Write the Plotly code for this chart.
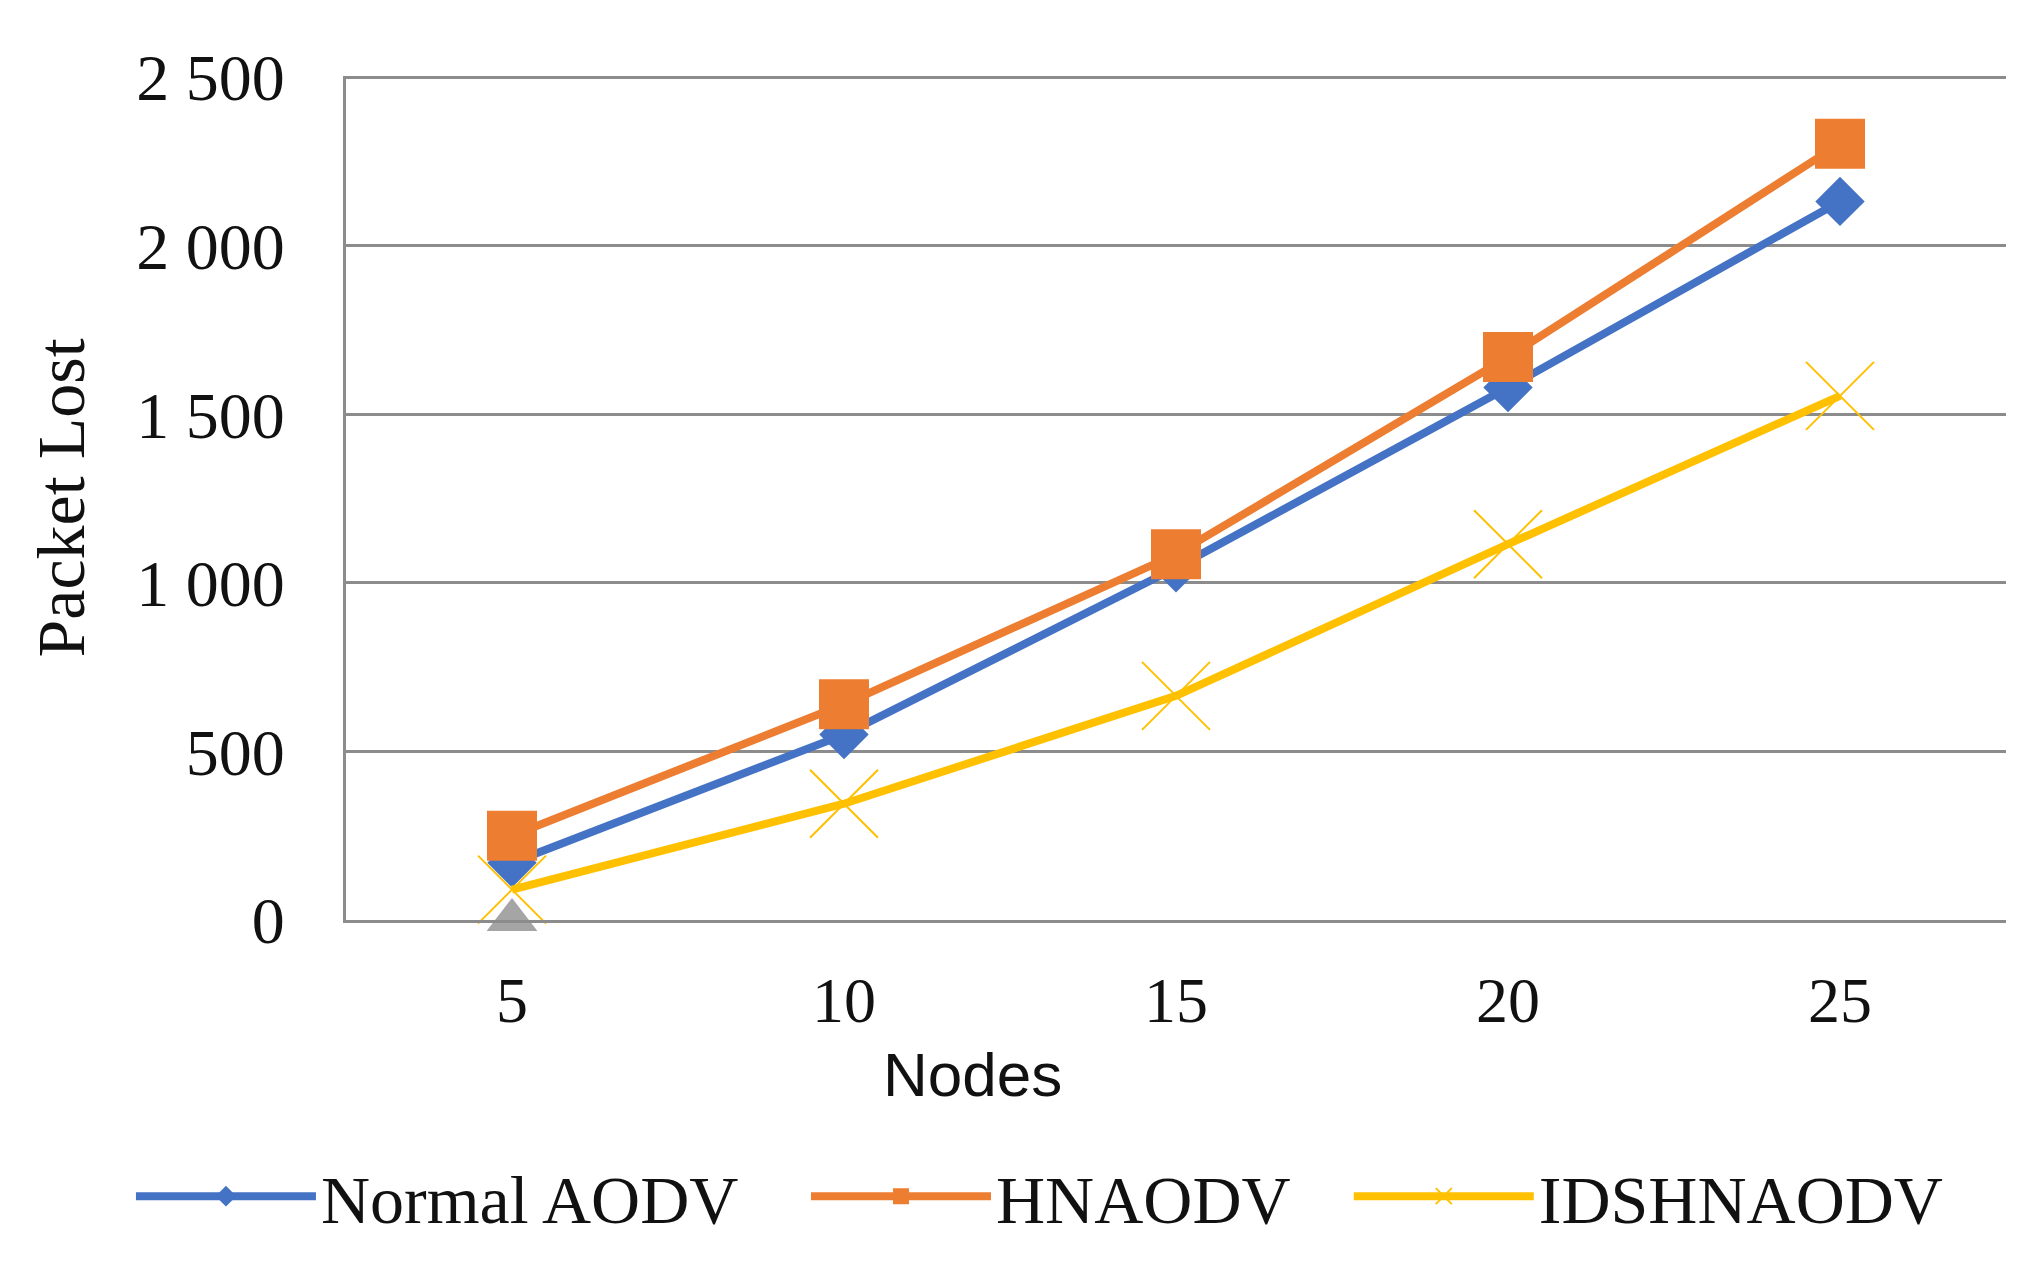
import plotly.graph_objs as go

nodes = ["5", "10", "15", "20", "25"]
normal_aodv = [170, 550, 1045, 1580, 2132]
hnaodv = [250, 640, 1085, 1670, 2303]
idshnaodv = [90, 345, 665, 1115, 1555]
series4 = [0]

y_ticks = [0, 500, 1000, 1500, 2000, 2500]
y_ticktext = ["0", "500", "1 000", "1 500", "2 000", "2 500"]

serif = "Liberation Serif"
grid = "#8c8c8c"

Normal = go.Scatter(x=nodes, y=normal_aodv, name="Normal AODV",
                    mode="lines+markers",
                    line=dict(color="#4472C4", width=8),
                    marker=dict(symbol="diamond", size=38, color="#4472C4"),
                    cliponaxis=False, legend="legend")

HN = go.Scatter(x=nodes, y=hnaodv, name="HNAODV",
                mode="lines+markers",
                line=dict(color="#ED7D31", width=8),
                marker=dict(symbol="square", size=50, color="#ED7D31"),
                cliponaxis=False, legend="legend2")

IDS = go.Scatter(x=nodes, y=idshnaodv, name="IDSHNAODV",
                 mode="lines+markers",
                 line=dict(color="#FFC000", width=8),
                 marker=dict(symbol="x-thin-open", size=68,
                             line=dict(color="#FFD966", width=2)),
                 cliponaxis=False, legend="legend3")

# lone grey point sitting on the axis at 5
S4 = go.Scatter(x=nodes[:1], y=series4, name="Series4", mode="markers",
                marker=dict(symbol="triangle-up", size=44, color="#A5A5A5"),
                showlegend=False, cliponaxis=False)

data = [Normal, HN, IDS, S4]


def leg(x):
    return dict(orientation="h", xref="container", yref="container",
                x=x, y=0.062, xanchor="left", yanchor="middle",
                itemwidth=180, bgcolor="rgba(0,0,0,0)",
                font=dict(family=serif, size=68))


layout = go.Layout(width=2029, height=1267,
                   paper_bgcolor="white", plot_bgcolor="white",
                   margin=dict(l=338, r=31, t=68, b=355),
                   font=dict(family=serif, size=66, color="#111111"),
                   xaxis=dict(type="category", range=[-0.5, 4.5],
                              showgrid=False, showline=True,
                              linecolor=grid, linewidth=3,
                              ticks="", ticklabelstandoff=22,
                              tickfont=dict(family=serif, size=64)),
                   yaxis=dict(range=[0, 2504], tickvals=y_ticks,
                              ticktext=y_ticktext,
                              showgrid=True, gridcolor=grid, gridwidth=3,
                              zeroline=False, showline=True,
                              linecolor=grid, linewidth=3,
                              ticks="", ticklabelstandoff=45,
                              tickfont=dict(family=serif, size=66),
                              title=dict(text="Packet Lost", standoff=30,
                                         font=dict(family=serif, size=68))),
                   annotations=[dict(text="Nodes", xref="paper", yref="paper",
                                     x=0.3777, y=-0.1827,
                                     xanchor="center", yanchor="middle",
                                     showarrow=False,
                                     font=dict(family="Liberation Sans", size=62))],
                   legend=leg(0.0606),
                   legend2=leg(0.3933),
                   legend3=leg(0.6608),
                   showlegend=True)

fig = go.Figure(data=data, layout=layout)
fig.write_html("out.html")
